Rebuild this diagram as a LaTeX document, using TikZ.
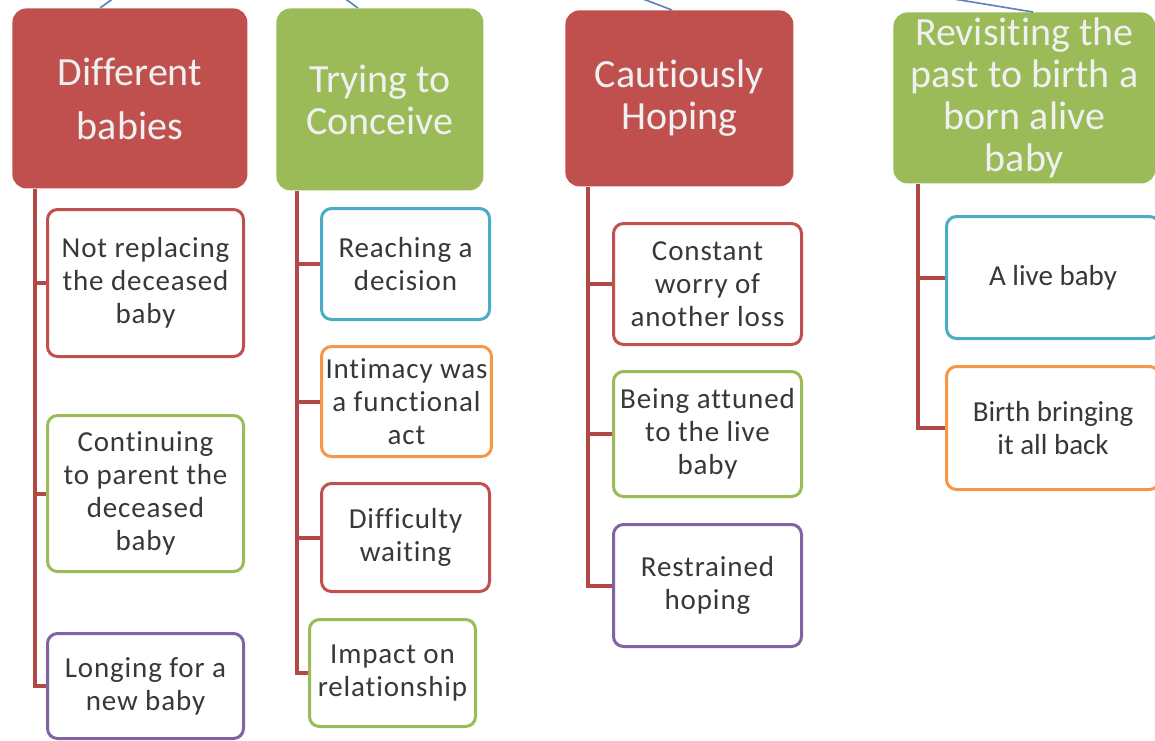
\documentclass[tikz,border=0pt]{standalone}
\usepackage{fontspec}
\setmainfont{Carlito}[Ligatures=NoCommon]
\usetikzlibrary{positioning,calc}
\definecolor{themered}{HTML}{C0504D}
\definecolor{themegreen}{HTML}{9BBB59}
\definecolor{themeblue}{HTML}{4BACC6}
\definecolor{themeorange}{HTML}{F79646}
\definecolor{themepurple}{HTML}{8064A2}
\definecolor{linkblue}{HTML}{5B80B8}
\tikzset{
  theme/.style={fill=#1, draw=none, rounded corners=7pt, text=white!94!black, align=center, anchor=north west, inner sep=2pt, font=\fontsize{20}{21}\selectfont},
  sub/.style={draw=#1, line width=1.5pt, fill=white, rounded corners=5pt, text=black!78, align=center, anchor=north west, inner sep=2pt, font=\fontsize{14.5}{16.5}\selectfont},
  wide/.style={font=\fontsize{14.5}{16.5}\selectfont\addfontfeature{LetterSpace=3}},
  branch/.style={draw=themered!92!black, line width=2pt},
  link/.style={draw=linkblue, line width=0.8pt},
}

\begin{document}
\begin{tikzpicture}[x=0.5pt, y=-0.5pt]
\useasboundingbox (0,0) rectangle (1155,740); % frame
% themes
\node [theme=themered, minimum width=117.5pt, minimum height=90pt] (diff) at (12,8) {Different\\[6pt]babies};
\node [theme=themegreen, minimum width=103.5pt, minimum height=91pt] (conc) at (276,8) {Trying to\\Conceive};
\node [theme=themered, minimum width=114pt, minimum height=88pt] (hope) at (565,10) {Cautiously\\Hoping};
\node [theme=themegreen, minimum width=131pt, minimum height=85.5pt] (past) at (893,12) {Revisiting the\\past to birth a\\born alive\\baby};
% links from above
\coordinate (up1) at (139,-20);
\coordinate (up2) at (319,-20);
\coordinate (up3) at (593,-20);
\coordinate (up4) at (838,-20);
\draw [link] (up1) -- ([xshift=44pt]diff.north west);
\draw [link] (up2) -- ([xshift=41pt]conc.north west);
\draw [link] (up3) -- ([xshift=53.5pt]hope.north west);
\draw [link] (up4) -- ([xshift=70pt]past.north west);
% subthemes
\node [sub=themered, wide, minimum width=98pt, minimum height=73.5pt] (replace) at (46,208) {Not replacing\\the deceased\\baby};
\node [sub=themegreen, wide, minimum width=98pt, minimum height=78pt] (parent) at (46,414) {Continuing\\to parent the\\deceased\\baby};
\node [sub=themepurple, wide, minimum width=98pt, minimum height=52.5pt] (longing) at (46,632) {Longing for a\\new baby};
\node [sub=themeblue, wide, minimum width=84pt, minimum height=55.5pt] (decision) at (320,207) {Reaching a\\decision};
\node [sub=themeorange, wide, minimum width=84pt, minimum height=55pt] (intimacy) at (320,345) {Intimacy was\\a functional\\act};
\node [sub=themered, wide, minimum width=84pt, minimum height=54pt] (waiting) at (320,482) {Difficulty\\waiting};
\node [sub=themegreen, wide, minimum width=83pt, minimum height=53.5pt] (impact) at (308,618) {Impact on\\relationship};
\node [sub=themered, wide, minimum width=94pt, minimum height=60.5pt] (worry) at (612,222) {Constant\\worry of\\another loss};
\node [sub=themegreen, wide, minimum width=94pt, minimum height=62.5pt] (attuned) at (612,370) {Being attuned\\to the live\\baby};
\node [sub=themepurple, wide, minimum width=94pt, minimum height=61pt] (restrained) at (612,523) {Restrained\\hoping};
\node [sub=themeblue, minimum width=106.5pt, minimum height=61pt] (alive) at (945,215) {A live baby};
\node [sub=themeorange, minimum width=106.5pt, minimum height=61.5pt] (birth) at (945,365) {Birth bringing\\it all back};
% trunks
\coordinate (t1) at ([xshift=11.5pt]diff.south west);
\coordinate (t2) at ([xshift=10.5pt]conc.south west);
\coordinate (t3) at ([xshift=11.5pt]hope.south west);
\coordinate (t4) at ([xshift=12.5pt]past.south west);
\foreach \c in {replace,parent,longing} \draw [branch] (t1) |- (\c.west);
\foreach \c in {decision,intimacy,waiting,impact} \draw [branch] (t2) |- (\c.west);
\foreach \c in {worry,attuned,restrained} \draw [branch] (t3) |- (\c.west);
\foreach \c in {alive,birth} \draw [branch] (t4) |- (\c.west);
\end{tikzpicture}
\end{document}
